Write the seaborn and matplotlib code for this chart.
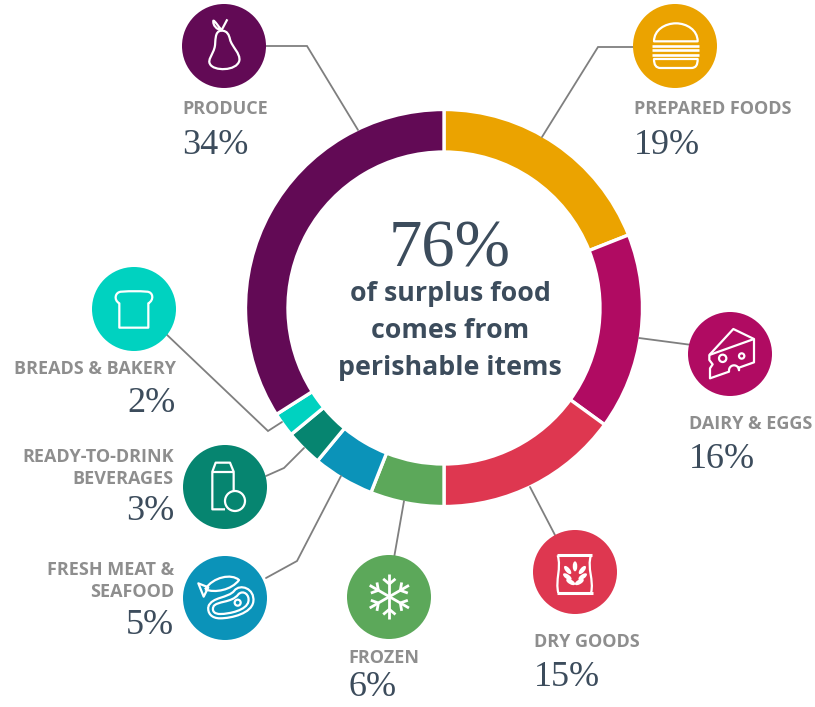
import matplotlib
matplotlib.use("Agg")
import matplotlib.pyplot as plt
import seaborn as sns
import numpy as np
from matplotlib.patches import Circle, PathPatch, Polygon, Ellipse
from matplotlib.path import Path

# Share of surplus food per category, clockwise from twelve o'clock
categories = ["PREPARED FOODS", "DAIRY & EGGS", "DRY GOODS", "FROZEN",
              "FRESH MEAT &\nSEAFOOD", "READY-TO-DRINK\nBEVERAGES",
              "BREADS & BAKERY", "PRODUCE"]
shares = [19, 16, 15, 6, 5, 3, 2, 34]
colors = ["#EBA300", "#B00B62", "#DE3750", "#5CA85A",
          "#0B93B9", "#068570", "#00D2C0", "#620A55"]
headline_value = "76%"
headline_lines = ["of surplus food", "comes from", "perishable items"]

sns.set_theme(style="white")
plt.rcParams["font.family"] = ["Open Sans", "DejaVu Sans"]

W, H = 815, 707
fig = plt.figure(figsize=(W / 100, H / 100), dpi=100)
ax = fig.add_axes([0, 0, 1, 1])


def P(x, y):
    """Pixel position measured from the top-left corner to data coordinates."""
    return x, H - y


# Donut ring
palette = sns.color_palette(colors)
ax.pie(shares, colors=palette, startangle=90, counterclock=False,
       center=P(444, 308), radius=198.5, frame=False,
       wedgeprops=dict(width=42.5, edgecolor="white", linewidth=2.4))
ax.set_xlim(0, W)
ax.set_ylim(0, H)
ax.set_aspect("equal")
ax.axis("off")

LEADER = "#7F7F7F"
leaders = [
    [(634, 47), (598, 47), (542, 137)],
    [(639, 338), (692, 345)],
    [(530, 487), (556, 537)],
    [(404, 501), (394, 558)],
    [(341, 476), (297, 561), (266, 578)],
    [(304, 448), (284, 468), (266, 476)],
    [(282, 422), (268, 431), (165, 333)],
    [(264, 46), (307, 46), (358, 130)],
]
for pts in leaders:
    xs, ys = zip(*[P(*p) for p in pts])
    ax.plot(xs, ys, color=LEADER, lw=1.3, zorder=1, solid_joinstyle="miter")

# Icon badges, in the same order as the categories
badges = [(675, 46), (730, 354), (575, 572), (389, 597),
          (225, 598), (225, 487), (134, 309), (224, 46)]
for (bx, by), c in zip(badges, palette):
    ax.add_patch(Circle(P(bx, by), 42, color=c, lw=0, zorder=2))


def mapper(ox, oy):
    return lambda x, y: P(ox + x / 3, oy + y / 3)


LW = 1.6
ICON = dict(fill=False, edgecolor="white", lw=LW, zorder=3, joinstyle="round")


def poly(m, pts, closed=True):
    ax.add_patch(Polygon([m(*p) for p in pts], closed=closed, **ICON))


def line(m, pts, lw=LW):
    xs, ys = zip(*[m(*p) for p in pts])
    ax.plot(xs, ys, color="white", lw=lw, zorder=3, solid_capstyle="butt")


def curve(m, start, segs, close=False):
    """Draw a chain of cubic segments, each given as three control points."""
    v = [m(*start)]
    c = [Path.MOVETO]
    for s in segs:
        v += [m(*p) for p in s]
        c += [Path.CURVE4] * 3
    if close:
        v.append(m(*start))
        c.append(Path.CLOSEPOLY)
    ax.add_patch(PathPatch(Path(v, c), **ICON))


def ring(m, x, y, r):
    ax.add_patch(Circle(m(x, y), r / 3, **ICON))


# Pear
m = mapper(170, 0)
curve(m, (155, 92), [((132, 92), (138, 125), (134, 142)),
                     ((128, 165), (112, 180), (120, 192)),
                     ((130, 214), (200, 214), (208, 182)),
                     ((212, 160), (185, 140), (180, 118)),
                     ((177, 105), (172, 92), (155, 92))])
curve(m, (155, 90), [((145, 80), (135, 62), (130, 62)),
                     ((128, 75), (140, 90), (155, 90))])
line(m, [(155, 90), (172, 58)])

# Burger
m = mapper(620, 0)
curve(m, (102, 124), [((102, 90), (135, 70), (168, 70)),
                      ((200, 70), (233, 90), (233, 124))], close=True)
for y in (137, 150, 164):
    line(m, [(95, y), (238, y)], lw=1.9)
curve(m, (102, 177), [((102, 195), (108, 204), (122, 204)),
                      ((160, 204), (175, 204), (213, 204)),
                      ((228, 204), (233, 195), (233, 177))], close=True)

# Cheese wedge
m = mapper(680, 305)
arc = np.linspace(np.pi * 0.98, 0.02, 20)
bite = [(162 + 15 * np.cos(a), 196 - 15 * np.sin(a)) for a in arc]
poly(m, [(88, 150), (160, 72), (222, 102), (222, 172), (177, 188)] +
     bite[::-1] + [(147, 200), (90, 220), (90, 190), (98, 178), (88, 165)])
line(m, [(88, 150), (222, 102)])
ring(m, 128, 160, 11)
ring(m, 185, 153, 8)

# Sack of grain
m = mapper(525, 525)
line(m, [(95, 91), (200, 91)], lw=2.2)
line(m, [(97, 204), (203, 204)], lw=2.2)
curve(m, (98, 91), [((110, 130), (90, 165), (100, 204))])
curve(m, (198, 91), [((185, 130), (208, 165), (198, 204))])
for dx, dy, ang in [(0, -26, 90), (-22, -15, 130), (22, -15, 50),
                    (-23, 5, 145), (23, 5, 35), (-13, 21, 150), (13, 21, 30)]:
    xc, yc = m(150 + dx, 150 + dy)
    ax.add_patch(Ellipse((xc, yc), 10, 4.5, angle=ang, color="white", lw=0, zorder=3))

# Snowflake
m = mapper(340, 550)
cx, cy, arm = 148, 140, 68
for deg in (90, 30, -30):
    a = np.radians(deg)
    ux, uy = np.cos(a), -np.sin(a)
    line(m, [(cx - arm * ux, cy - arm * uy), (cx + arm * ux, cy + arm * uy)], lw=2.0)
    for sign in (1, -1):
        for off in (-38, 38):
            sp = np.sign(off)
            b = a + np.radians(50) * (1 if sp > 0 else -1) * sign
            bx, by = cx + off * ux, cy + off * uy
            d = 24 * sp
            line(m, [(bx, by), (bx + d * np.cos(b), by - d * np.sin(b))], lw=2.0)

# Fish and steak
m = mapper(175, 550)
curve(m, (90, 118), [((115, 80), (170, 70), (192, 90)),
                     ((170, 120), (120, 130), (90, 118))])
poly(m, [(70, 100), (100, 112), (86, 140)])
curve(m, (100, 170), [((110, 140), (160, 145), (178, 122)),
                      ((195, 100), (240, 115), (235, 155)),
                      ((230, 190), (170, 205), (135, 205)),
                      ((110, 205), (97, 190), (100, 170))])
curve(m, (115, 170), [((125, 152), (170, 160), (190, 133)),
                      ((205, 118), (225, 135), (220, 155)),
                      ((215, 180), (165, 192), (135, 192)),
                      ((120, 192), (110, 185), (115, 170))])
ring(m, 188, 158, 9)

# Drink carton
m = mapper(175, 440)
poly(m, [(150, 208), (112, 208), (112, 95), (122, 68), (165, 68),
         (176, 95), (176, 155)], closed=False)
line(m, [(112, 95), (176, 95)])
ring(m, 180, 183, 30)

# Slice of bread
m = mapper(85, 260)
curve(m, (103, 203), [((103, 180), (103, 150), (103, 130)),
                      ((85, 120), (90, 95), (110, 95)),
                      ((140, 93), (160, 93), (185, 95)),
                      ((205, 95), (208, 120), (190, 130)),
                      ((190, 150), (190, 180), (190, 203))], close=True)

# Category captions: name, then the share underneath
LABEL = "#8E8E8E"
VALUE = "#3C4C5C"
LABEL_SIZE = 13.0
VALUE_SIZE = 26
VALUE_FONT = "Liberation Serif"

captions = [
    (634, "left", [109], 145),
    (689, "left", [424], 459),
    (534, "left", [642], 677),
    (348, "left", [658], 688),
    (174, "right", [570, 592], 625),
    (174, "right", [457, 479], 512),
    (176, "right", [369], 403),
    (182, "left", [109], 145),
]
for name, value, (x, ha, rows, yv) in zip(categories, shares, captions):
    for part, y in zip(name.split("\n"), rows):
        ax.text(*P(x, y), part, ha=ha, va="center", color=LABEL,
                fontsize=LABEL_SIZE, fontweight="bold")
    ax.text(*P(x, yv), f"{value}%", ha=ha, va="center", color=VALUE,
            fontsize=VALUE_SIZE, family=VALUE_FONT)

# Centre headline
ax.text(*P(450, 250), headline_value, ha="center", va="center", color=VALUE,
        fontsize=48, family=VALUE_FONT)
for txt, y in zip(headline_lines, (294, 331, 368)):
    ax.text(*P(450, y), txt, ha="center", va="center", color=VALUE,
            fontsize=19.3, fontweight="bold")

fig.savefig("out.png", dpi=100, facecolor="white")
